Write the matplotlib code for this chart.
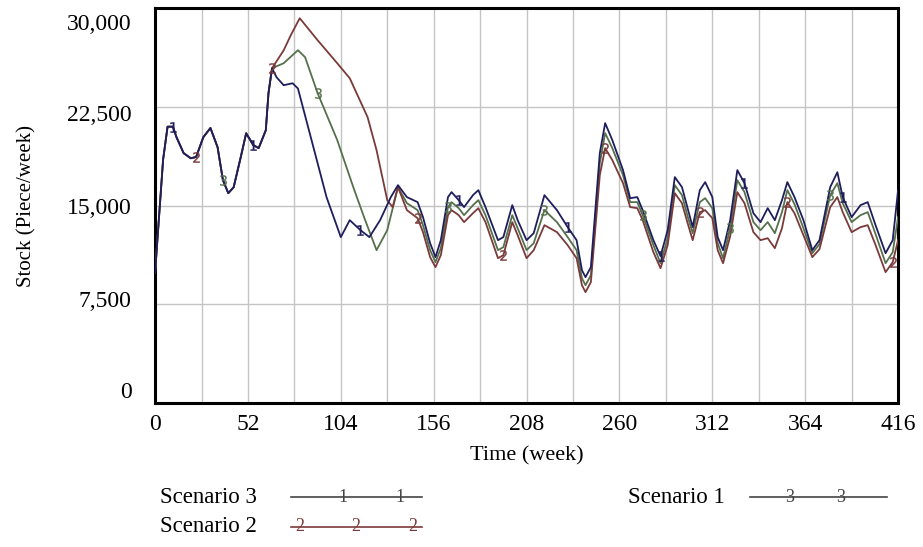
import matplotlib
matplotlib.use("Agg")
import matplotlib.pyplot as plt
import matplotlib.transforms as mtrans
import numpy as np

plt.rcParams['font.family'] = ['Liberation Serif', 'DejaVu Serif']

# shared start (all scenarios identical up to week ~65)
w_common = [0, 4.5, 7, 10, 12, 16, 20, 23, 27, 31, 35, 38, 41, 44, 48, 51, 55, 58, 62, 63.5, 65.5]
v_common = [9900, 18500, 21000, 21000, 20200, 18990, 18600, 18700, 20200, 20900, 19440,
            16940, 15950, 16400, 18700, 20500, 19600, 19370, 20730, 23550, 25440]

# diverging part
w_s3_mid = [68, 72, 77, 80, 91, 96, 104, 109, 115, 120, 126, 132]
v_s3_mid = [24760, 24150, 24300, 23900, 18230, 15650, 12610, 13900, 13140, 12610, 13900, 15650]

w_s1_mid = [72, 80, 84, 91, 102, 111, 117, 124, 130]
v_s1_mid = [25820, 26810, 26280, 23550, 19980, 16400, 14130, 11620, 13140]

w_s2_mid = [72, 76, 81, 91, 102, 109, 119, 124, 130, 133]
v_s2_mid = [26800, 27950, 29240, 27570, 25820, 24680, 21720, 19220, 15420, 14890]

# oscillating tail
w_tail = [136, 141, 147, 150, 154, 157, 160, 164, 166, 170, 173, 178, 181, 185, 192,
          195, 200, 203, 208, 212, 218, 225, 231, 236, 239, 241, 244, 249, 252, 256,
          262, 266, 270, 273, 279, 283, 287, 291, 295, 298, 301, 305, 308, 312, 315,
          318, 322, 326, 330, 335, 339, 343, 347, 351, 354, 358, 363, 368, 372, 378,
          382, 385, 390, 395, 399, 403, 409, 413, 416]
v_s3_tail = [16560, 15650, 15270, 14130, 12150, 11090, 12380, 15650, 16030, 15420, 14890, 15800, 16180, 14890, 12380,
             12610, 15040, 13900, 12380, 12910, 15800, 14660, 13370, 12380, 10100, 9570, 10330, 18990, 21270, 19980,
             17700, 15570, 15650, 14660, 12380, 11170, 13140, 17170, 16410, 14890, 13370, 16180, 16790, 15650, 12610,
             11620, 13900, 17700, 16710, 14430, 13750, 14810, 13900, 15420, 16790, 15650, 13900, 11620, 12380, 16410,
             17540, 15650, 14130, 15040, 15270, 13670, 11390, 12380, 16180]
v_s1_tail = [16410, 15190, 14660, 13520, 11620, 10710, 11770, 14890, 15270, 14810, 14280, 15040, 15420, 14280, 11620,
             11850, 14280, 13290, 11620, 12150, 14660, 13750, 12610, 11620, 9490, 8960, 9720, 18230, 20510, 19370,
             17320, 15270, 15270, 14280, 12000, 10630, 12530, 16560, 15800, 14280, 12910, 15270, 15570, 14810, 12150,
             11010, 13290, 16940, 16030, 13750, 13140, 13750, 12910, 14510, 16180, 15120, 13290, 11390, 12080, 15800,
             16710, 15190, 13750, 14280, 14510, 12990, 10630, 11470, 14130]
v_s2_tail = [16410, 14660, 14050, 12990, 11090, 10330, 11240, 14280, 14660, 14280, 13750, 14430, 14810, 13750, 11010,
             11240, 13750, 12760, 11010, 11620, 13520, 12990, 12000, 11010, 8960, 8430, 9190, 17320, 19370, 18460,
             16710, 14890, 14810, 13900, 11470, 10250, 12000, 15950, 15190, 13750, 12380, 14510, 14660, 14050, 11620,
             10630, 12680, 16030, 15190, 12990, 12380, 12530, 11770, 13290, 15270, 14430, 12760, 11090, 11700, 14890,
             15650, 14510, 12990, 13370, 13520, 12150, 9950, 10710, 12380]

x_ticks = [0, 52, 104, 156, 208, 260, 312, 364, 416]
y_ticks = [0, 7500, 15000, 22500, 30000]
y_ticklabels = ['0', '7,500', '15,000', '22,500', '30,000']

names = ['Scenario 3', 'Scenario 2', 'Scenario 1']
marks = ['1', '2', '3']
colors = ['#1e1e5c', '#7a3a3a', '#56704c']

series = [
    (w_common + w_s3_mid + w_tail, v_common + v_s3_mid + v_s3_tail),
    (w_common + w_s2_mid + w_tail, v_common + v_s2_mid + v_s2_tail),
    (w_common + w_s1_mid + w_tail, v_common + v_s1_mid + v_s1_tail),
]

fig = plt.figure(figsize=(9.23, 5.47), dpi=100)
ax = fig.add_axes([0.168, 0.263, 0.805, 0.722])

for i, (w, v) in enumerate(series):
    ax.plot(w, v, color=colors[i], lw=1.3, zorder=3 - i * 0.1)
    # numbered labels along each line, like the original simulation plot
    idx = np.arange(3 + i * 4, len(w), 13)
    ax.plot(np.array(w)[idx], np.array(v)[idx], ls='none', marker='$' + marks[i] + '$',
            ms=7.5, mew=0.2, color=colors[i], zorder=4)

ax.set_xlim(0, 416)
ax.set_ylim(0, 30000)
ax.set_xticks(x_ticks)
ax.set_xticks(np.arange(0, 417, 26), minor=True)
ax.set_yticks(y_ticks)
ax.set_yticklabels(y_ticklabels)
ax.grid(True, which='both', axis='x', color='#c4c4c4', lw=1)
ax.grid(True, which='major', axis='y', color='#c4c4c4', lw=1)
ax.tick_params(which='both', length=0, labelsize=17)
ax.tick_params(axis='y', pad=17)
ax.tick_params(axis='x', pad=8)
ylabs = ax.get_yticklabels()
ylabs[0].set_va('bottom')
ylabs[-1].set_va('top')
ylabs[-1].set_transform(ylabs[-1].get_transform() + mtrans.ScaledTranslation(0, -6 / 100, fig.dpi_scale_trans))
ylabs[-2].set_transform(ylabs[-2].get_transform() + mtrans.ScaledTranslation(0, -6 / 100, fig.dpi_scale_trans))
ylabs[1].set_transform(ylabs[1].get_transform() + mtrans.ScaledTranslation(0, 5 / 100, fig.dpi_scale_trans))
for s in ax.spines.values():
    s.set_linewidth(2.2)
    s.set_color('black')

ax.set_xlabel('Time (week)', fontsize=16, labelpad=8)
ax.set_ylabel('Stock (Piece/week)', fontsize=15, labelpad=22)

# legend drawn below the axes
leg = [
    (0.173, 0.909, 0.315, 0.457, [0.372, 0.433], 0),
    (0.173, 0.963, 0.315, 0.457, [0.325, 0.385, 0.447], 1),
    (0.680, 0.909, 0.813, 0.961, [0.856, 0.911], 2),
]
for tx, ty, x0, x1, mpos, k in leg:
    fig.text(tx, 1 - ty, names[k], fontsize=16.5, va='center', ha='left')
    fig.add_artist(plt.Line2D([x0, x1], [1 - ty, 1 - ty], color=colors[k] if k == 1 else '#444444',
                              lw=1.2, transform=fig.transFigure))
    for mx in mpos:
        fig.text(mx, 1 - ty, marks[k], fontsize=13, va='center', ha='center',
                 color=colors[k] if k == 1 else '#444444')

fig.savefig('out.png', dpi=100)
